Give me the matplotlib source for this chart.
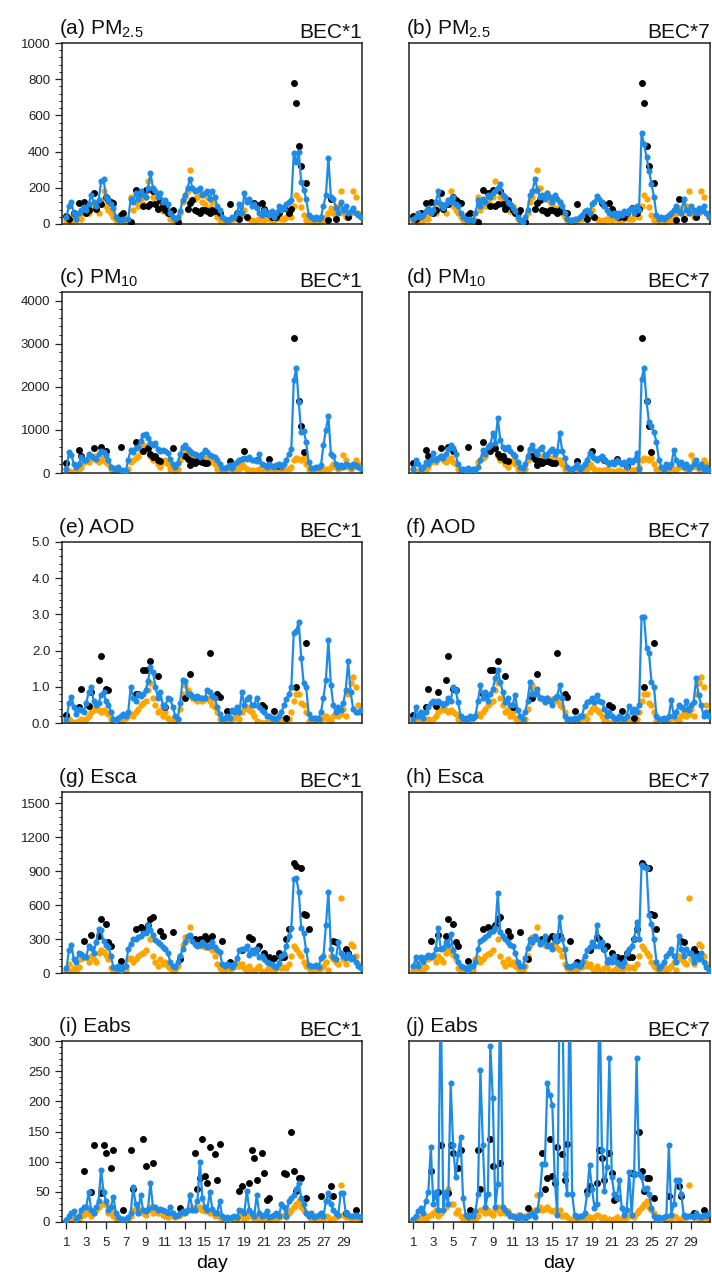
import matplotlib

matplotlib.use("Agg")
import matplotlib.pyplot as plt
import numpy as np
from matplotlib.ticker import AutoMinorLocator, FormatStrFormatter, MultipleLocator

nan = np.nan

plt.rcParams["font.family"] = ["Liberation Sans", "DejaVu Sans"]
plt.rcParams["mathtext.fontset"] = "custom"
plt.rcParams["mathtext.rm"] = "Liberation Sans"
plt.rcParams["mathtext.default"] = "regular"

# 6-hourly samples (4 per day), day 1 .. day 30
days = 1 + np.arange(120) / 4.0

# ---------------- PM2.5 ----------------
pm25_obs = [
    45, 30, nan, 60, nan, 115, nan, 120, 60, 75, nan, 170, 85, nan, 110, nan, 150, 130, 120, 115,
    nan, nan, 50, 60, nan, nan, 12, nan, 190, nan, 170, 100, 190, 100, 110, 180, 110, 85, 130, 100,
    75, 60, 60, 80, nan, 10, nan, nan, nan, 85, 115, 130, 75, 70, 60, 75, 75, 70, 60, 75,
    70, nan, 60, nan, nan, nan, 110, nan, nan, 60, 30, nan, nan, 40, nan, nan, 118, 105, nan, 115,
    85, 60, nan, 40, nan, 40, 60, nan, 90, nan, 60, 85, 780, 670, 430, 320, nan, 228, nan, nan,
    nan, nan, nan, nan, nan, nan, 20, 140, nan, 30, nan, nan, nan, nan, 40, nan, nan, nan, nan, nan,
]
pm25_mod = [
    20, 40, 10, 30, 20, 50, 30, 60, 80, 60, 90, 110, 100, 60, 130, 180, 100, 80, 60, 40,
    20, 10, 15, 20, 10, 20, 150, 80, 120, 100, 130, 110, 150, 240, 190, 150, 130, 90, 100, 70,
    100, 60, 30, 20, 10, 20, 60, 120, 150, 180, 300, 200, 140, 150, 170, 120, 110, 150, 90, 120,
    60, 40, 20, 10, 10, 15, 20, 30, 25, 40, 60, 50, 80, 40, 30, 20, 15, 20, 30, 25,
    20, 40, 30, 20, 20, 30, 40, 30, 30, 40, 50, 40, 100, 160, 140, 95, 50, 20, 15, 10,
    10, 15, 10, 20, 20, 40, 60, 90, 60, 40, 100, 180, 60, 40, 50, 60, 185, 150, 60, 40,
]
pm25_bec1 = [
    40, 100, 120, 60, 30, 60, 80, 95, 80, 110, 160, 120, 100, 130, 235, 250, 150, 130, 110, 90,
    40, 25, 20, 30, 25, 30, 140, 120, 170, 140, 180, 160, 150, 200, 280, 200, 180, 150, 170, 120,
    130, 110, 60, 40, 30, 40, 70, 130, 160, 200, 250, 200, 180, 190, 200, 160, 170, 180, 140, 180,
    150, 100, 80, 40, 30, 20, 30, 40, 40, 60, 110, 60, 170, 120, 140, 100, 110, 90, 60, 50,
    80, 60, 50, 70, 40, 60, 100, 80, 90, 110, 120, 130, 390, 340, 400, 230, 190, 140, 50, 40,
    30, 40, 30, 40, 100, 160, 365, 150, 140, 90, 60, 120, 80, 100, 60, 70, 90, 60, 50, 40,
]
pm25_bec7 = [
    30, 40, 60, 40, 50, 70, 90, 60, 80, 120, 180, 110, 90, 110, 130, 120, 150, 110, 100, 60,
    40, 30, 20, 30, 20, 60, 130, 100, 140, 120, 160, 150, 170, 180, 200, 220, 160, 150, 120, 110,
    90, 70, 40, 20, 10, 40, 80, 160, 180, 250, 190, 150, 160, 140, 170, 150, 120, 160, 140, 120,
    100, 60, 30, 20, 20, 25, 30, 40, 50, 70, 80, 60, 110, 120, 157, 140, 120, 100, 80, 60,
    50, 60, 40, 60, 50, 70, 60, 80, 90, 60, 100, 80, 505, 440, 370, 295, 220, 150, 50, 30,
    40, 30, 40, 50, 60, 80, 100, 70, 60, 140, 80, 60, 100, 80, 60, 90, 70, 100, 60, 40,
]

# ---------------- PM10 ----------------
pm10_obs = [
    230, nan, nan, nan, nan, 525, 400, nan, nan, nan, nan, 580, nan, nan, 600, nan, 500, nan, nan, nan,
    nan, nan, 600, nan, nan, nan, nan, nan, 710, nan, nan, 500, nan, 580, 450, 380, 385, 310, 270, nan,
    nan, nan, nan, 580, nan, nan, nan, nan, 385, 330, 190, 290, 230, 290, 270, 250, 240, 230, nan, nan,
    nan, nan, nan, nan, nan, nan, 270, nan, nan, nan, nan, nan, 515, nan, nan, nan, nan, 310, nan, nan,
    nan, nan, 325, nan, nan, nan, 170, nan, nan, nan, nan, nan, 3140, nan, 1675, 1100, 490, nan, nan, nan,
    nan, nan, nan, nan, nan, nan, nan, nan, nan, nan, nan, nan, nan, nan, nan, nan, nan, nan, nan, nan,
]
pm10_mod = [
    100, 50, 20, 40, 30, 100, 150, 250, 300, 250, 350, 400, 300, 250, 300, 350, 250, 200, 100, 50,
    20, 30, 50, 20, 30, 100, 250, 300, 350, 400, 500, 650, 620, 550, 400, 300, 350, 200, 150, 250,
    300, 200, 100, 50, 50, 100, 300, 500, 500, 450, 400, 350, 400, 350, 300, 350, 300, 350, 250, 300,
    200, 100, 50, 30, 30, 100, 150, 100, 80, 150, 100, 200, 150, 100, 50, 80, 50, 80, 100, 50,
    50, 30, 40, 60, 30, 50, 40, 100, 80, 60, 100, 150, 300, 350, 330, 300, 350, 200, 100, 50,
    40, 30, 50, 60, 80, 100, 60, 150, 200, 150, 100, 150, 425, 300, 150, 100, 150, 300, 200, 100,
]
pm10_bec1 = [
    100, 480, 420, 200, 150, 200, 380, 300, 300, 450, 400, 350, 320, 450, 520, 480, 420, 300, 150, 120,
    100, 130, 60, 80, 40, 300, 540, 480, 580, 600, 750, 880, 900, 820, 700, 660, 700, 560, 520, 540,
    520, 470, 320, 200, 150, 230, 450, 600, 640, 560, 500, 470, 450, 420, 380, 450, 530, 480, 420, 400,
    380, 300, 200, 120, 120, 150, 180, 120, 200, 250, 300, 320, 350, 320, 380, 300, 300, 280, 450, 200,
    180, 150, 200, 170, 150, 180, 200, 150, 200, 300, 450, 550, 2150, 2430, 1650, 950, 980, 720, 250, 120,
    120, 150, 130, 180, 650, 1000, 1330, 450, 400, 200, 150, 180, 150, 200, 180, 150, 200, 180, 150, 120,
]
pm10_bec7 = [
    100, 300, 200, 100, 150, 250, 200, 300, 460, 300, 350, 400, 350, 450, 550, 650, 580, 450, 200, 100,
    100, 80, 120, 60, 100, 80, 150, 300, 540, 450, 600, 650, 930, 700, 1275, 770, 600, 550, 600, 500,
    450, 400, 250, 150, 120, 200, 400, 550, 650, 500, 450, 550, 600, 400, 450, 500, 550, 450, 500, 930,
    500, 350, 150, 100, 100, 150, 200, 100, 150, 200, 300, 460, 400, 350, 300, 350, 400, 300, 250, 200,
    250, 200, 300, 250, 200, 250, 150, 300, 250, 300, 460, 100, 2180, 2430, 1660, 1175, 1080, 940, 730, 300,
    150, 100, 200, 150, 200, 525, 300, 200, 250, 150, 200, 100, 150, 200, 300, 150, 200, 100, 150, 80,
]

# ---------------- AOD ----------------
aod_obs = [
    0.23, nan, nan, nan, nan, 0.44, 0.93, nan, nan, 0.47, 0.86, nan, nan, 1.19, 1.86, nan, 0.95, 0.9, nan, nan,
    nan, nan, nan, nan, nan, nan, nan, nan, 0.81, 0.81, nan, 1.46, 1.46, nan, 1.7, nan, nan, 1.3, nan, nan,
    0.44, nan, nan, nan, nan, nan, nan, nan, 0.7, nan, 1.36, nan, nan, nan, nan, nan, nan, nan, 1.93, nan,
    nan, 0.81, 0.72, nan, nan, 0.32, nan, nan, nan, nan, nan, nan, nan, nan, nan, nan, nan, nan, nan, 0.51,
    0.44, nan, nan, nan, 0.33, nan, nan, nan, nan, 0.14, nan, nan, nan, 1.0, nan, nan, nan, 2.2, nan, nan,
    nan, nan, nan, nan, nan, nan, nan, nan, nan, nan, nan, nan, nan, nan, nan, nan, nan, nan, nan, nan,
]
aod_mod = [
    0.05, 0.1, 0.05, 0.0, 0.02, 0.05, 0.1, 0.05, 0.1, 0.2, 0.3, 0.35, 0.4, 0.35, 0.3, 0.35, 0.3, 0.25, 0.1, 0.05,
    0.0, 0.05, 0.02, 0.1, 0.15, 0.2, 0.25, 0.2, 0.3, 0.4, 0.5, 0.55, 0.6, 0.9, 1.1, 0.7, 0.5, 0.3, 0.35, 0.2,
    0.3, 0.15, 0.05, 0.1, 0.05, 0.1, 0.4, 0.8, 1.05, 0.9, 0.8, 0.7, 0.65, 0.6, 0.7, 0.6, 0.65, 0.7, 0.6, 0.5,
    0.45, 0.3, 0.1, 0.05, 0.05, 0.1, 0.05, 0.1, 0.15, 0.2, 0.1, 0.3, 0.4, 0.45, 0.35, 0.3, 0.2, 0.05, 0.02, 0.0,
    0.0, 0.02, 0.0, 0.0, 0.0, 0.02, 0.05, 0.05, 0.1, 0.05, 0.1, 0.3, 0.6, 0.8, 0.8, 0.55, 0.5, 0.3, 0.05, 0.02,
    0.0, 0.05, 0.0, 0.1, 0.15, 0.2, 0.1, 0.05, 0.2, 0.3, 0.2, 0.25, 0.4, 0.2, 0.8, 1.1, 1.28, 1.0, 0.5, 0.3,
]
aod_bec1 = [
    0.1, 0.55, 0.72, 0.45, 0.25, 0.4, 0.35, 0.3, 0.55, 0.85, 1.0, 0.6, 0.49, 0.55, 0.77, 0.86, 0.6, 0.49, 0.31, 0.12,
    0.08, 0.15, 0.2, 0.25, 0.2, 0.3, 1.0, 0.7, 0.6, 0.8, 0.75, 0.8, 0.9, 1.15, 1.55, 1.4, 1.0, 0.7, 0.85, 0.5,
    0.45, 0.7, 0.65, 0.45, 0.2, 0.1, 0.55, 1.2, 1.15, 0.8, 0.8, 0.75, 0.7, 0.75, 0.7, 0.68, 0.7, 0.9, 0.85, 0.75,
    0.7, 0.45, 0.25, 0.1, 0.15, 0.2, 0.15, 0.35, 0.3, 0.45, 0.3, 0.85, 0.5, 0.65, 0.72, 0.5, 0.5, 0.7, 0.45, 0.35,
    0.3, 0.2, 0.2, 0.15, 0.15, 0.1, 0.2, 0.3, 0.5, 0.65, 0.8, 1.0, 2.5, 2.55, 2.8, 1.8, 1.1, 1.0, 0.25, 0.15,
    0.15, 0.15, 0.12, 0.3, 0.7, 1.2, 2.3, 1.05, 0.5, 0.3, 0.45, 0.35, 0.55, 0.9, 1.7, 0.85, 0.4, 0.3, 0.3, 0.35,
]
aod_bec7 = [
    0.1, 0.45, 0.2, 0.3, 0.15, 0.3, 0.45, 0.55, 0.6, 0.58, 0.6, 0.55, 0.5, 0.55, 0.7, 0.6, 1.0, 0.9, 0.58, 0.2,
    0.1, 0.15, 0.1, 0.2, 0.15, 0.2, 0.6, 1.05, 0.7, 0.86, 0.6, 0.8, 0.95, 1.23, 1.46, 1.14, 0.85, 0.58, 0.7, 0.5,
    0.5, 0.77, 0.35, 0.2, 0.12, 0.3, 0.6, 1.14, 0.8, 0.8, 0.95, 0.7, 0.68, 0.58, 0.68, 0.6, 0.5, 0.68, 0.75, 1.05,
    0.68, 0.2, 0.12, 0.1, 0.1, 0.15, 0.1, 0.2, 0.2, 0.48, 0.58, 0.6, 0.68, 0.58, 0.77, 0.6, 0.58, 0.4, 0.2, 0.3,
    0.2, 0.15, 0.1, 0.2, 0.15, 0.1, 0.2, 0.48, 0.3, 0.4, 0.3, 0.5, 2.94, 2.92, 2.06, 1.93, 1.14, 1.0, 0.2, 0.1,
    0.1, 0.15, 0.1, 0.2, 0.63, 0.2, 0.3, 0.5, 0.45, 0.4, 0.6, 0.35, 0.5, 0.58, 1.23, 0.77, 0.5, 0.2, 0.3, 0.2,
]

# ---------------- Esca ----------------
esca_obs = [
    nan, nan, nan, nan, nan, nan, nan, 280, nan, nan, 340, nan, nan, 330, 480, nan, 435, 270, 240, nan,
    nan, nan, 110, nan, nan, nan, nan, nan, 390, nan, 405, 390, nan, 420, 480, 495, nan, nan, 375, 330,
    nan, nan, nan, 360, nan, nan, 125, nan, nan, nan, nan, nan, 300, nan, 300, nan, 330, 300, nan, 330,
    nan, nan, nan, 285, nan, nan, 95, 80, nan, nan, nan, 200, nan, nan, 315, 300, nan, 210, 240, nan,
    180, nan, 140, 125, 130, nan, 180, 140, 140, 300, 390, nan, 970, 950, nan, 930, 525, 510, 390, nan,
    nan, nan, nan, nan, nan, nan, nan, nan, 285, 270, nan, nan, nan, 210, 180, nan, nan, nan, nan, nan,
]
esca_mod = [
    30, 80, 20, 40, 20, 50, 120, 150, 140, 100, 150, 120, 100, 180, 200, 190, 160, 120, 40, 10,
    10, 20, 40, 20, 30, 120, 130, 100, 120, 150, 170, 180, 200, 390, 300, 150, 100, 65, 120, 80,
    100, 60, 40, 20, 30, 60, 150, 250, 320, 300, 410, 300, 280, 250, 260, 240, 230, 250, 220, 200,
    150, 80, 40, 20, 20, 40, 30, 60, 50, 100, 60, 80, 40, 20, 60, 30, 20, 40, 60, 20,
    10, 30, 50, 20, 20, 40, 60, 40, 50, 40, 80, 150, 240, 210, 180, 150, 100, 60, 40, 20,
    20, 50, 30, 40, 60, 100, 30, 150, 120, 100, 80, 660, 120, 80, 150, 260, 240, 150, 80, 40,
]
esca_bec1 = [
    40, 200, 250, 120, 95, 180, 170, 140, 140, 240, 220, 180, 270, 390, 380, 280, 250, 230, 150, 50,
    40, 60, 30, 50, 60, 210, 260, 300, 300, 320, 330, 350, 350, 420, 380, 340, 290, 270, 260, 230,
    210, 180, 100, 60, 50, 100, 150, 210, 270, 330, 340, 280, 260, 240, 250, 270, 250, 230, 240, 270,
    230, 200, 190, 80, 60, 80, 70, 50, 80, 130, 200, 210, 210, 240, 160, 200, 180, 210, 140, 150,
    120, 100, 90, 80, 60, 50, 90, 150, 170, 240, 330, 400, 830, 840, 720, 400, 350, 200, 70, 60,
    60, 70, 50, 130, 150, 420, 720, 210, 140, 120, 270, 180, 150, 130, 170, 120, 140, 100, 60, 40,
]
esca_bec7 = [
    60, 140, 60, 140, 100, 140, 160, 140, 155, 210, 395, 210, 220, 270, 250, 345, 200, 150, 95, 60,
    50, 40, 30, 60, 60, 100, 210, 285, 300, 320, 340, 360, 375, 400, 705, 360, 330, 300, 270, 250,
    240, 180, 100, 60, 60, 130, 220, 300, 270, 330, 300, 260, 270, 330, 240, 250, 210, 330, 280, 495,
    300, 210, 60, 50, 60, 80, 70, 60, 100, 150, 200, 230, 270, 240, 425, 240, 270, 210, 95, 120,
    95, 150, 95, 80, 65, 100, 180, 210, 240, 300, 450, 300, 955, 940, 930, 510, 435, 300, 100, 40,
    60, 100, 150, 180, 210, 150, 100, 330, 210, 150, 210, 180, 180, 100, 150, 120, 180, 100, 50, 30,
]

# ---------------- Eabs ----------------
eabs_obs = [
    nan, nan, nan, nan, nan, nan, nan, 84, nan, nan, 50, 128, nan, nan, 48, 128, 115, nan, 90, 120,
    nan, nan, nan, 20, nan, nan, 120, 54, nan, nan, nan, 138, 93, nan, nan, 98, nan, nan, nan, nan,
    nan, nan, nan, nan, nan, nan, 23, nan, nan, nan, nan, nan, 115, 55, 73, 137, 76, 65, 125, nan,
    112, 70, 130, nan, nan, nan, nan, nan, nan, nan, 51, 59, nan, nan, 65, 120, 106, 70, nan, 115,
    82, 36, 40, nan, nan, nan, nan, nan, 82, 79, nan, 150, 84, 51, 73, 73, nan, 40, nan, nan,
    nan, nan, nan, 43, nan, nan, nan, 59, 43, nan, nan, nan, nan, 15, nan, nan, nan, 20, nan, nan,
]
eabs_mod = [
    3, 5, 2, 8, 5, 3, 10, 12, 15, 20, 10, 15, 20, 25, 55, 30, 30, 15, 20, 10,
    5, 3, 2, 3, 3, 5, 10, 20, 20, 15, 20, 15, 12, 20, 25, 15, 20, 15, 18, 12,
    10, 8, 12, 10, 8, 10, 12, 15, 18, 20, 45, 25, 20, 22, 25, 20, 18, 20, 15, 20,
    10, 12, 8, 5, 3, 5, 3, 5, 8, 5, 10, 8, 5, 8, 12, 10, 5, 8, 3, 5,
    3, 5, 8, 3, 5, 3, 8, 10, 12, 8, 15, 20, 25, 30, 35, 25, 20, 15, 10, 5,
    3, 5, 3, 5, 5, 10, 8, 3, 5, 8, 10, 62, 12, 8, 10, 5, 8, 5, 3, 5,
]
eabs_bec1 = [
    3, 10, 15, 18, 5, 10, 20, 25, 25, 50, 20, 15, 25, 35, 87, 50, 35, 20, 25, 42,
    15, 8, 5, 5, 5, 8, 15, 58, 30, 15, 45, 20, 18, 22, 65, 25, 25, 20, 22, 20,
    18, 15, 25, 15, 10, 12, 15, 18, 15, 20, 45, 20, 20, 35, 100, 40, 25, 20, 50, 22,
    15, 15, 35, 10, 5, 8, 5, 8, 10, 8, 20, 18, 15, 52, 20, 15, 10, 45, 15, 10,
    12, 18, 8, 10, 12, 15, 10, 30, 25, 10, 35, 40, 45, 55, 65, 40, 30, 15, 10, 15,
    8, 10, 12, 15, 10, 34, 48, 30, 20, 15, 12, 48, 48, 15, 12, 10, 10, 12, 10, 8,
]
eabs_bec7 = [
    5, 10, 18, 24, 15, 35, 50, 124, 30, 49, 20, 400, 20, 49, 30, 230, 127, 74, 113, 141,
    40, 12, 8, 12, 10, 18, 46, 252, 127, 25, 46, 292, 205, 25, 63, 400, 25, 20, 15, 10,
    10, 8, 5, 12, 8, 5, 10, 12, 15, 8, 20, 46, 96, 96, 230, 210, 194, 69, 12, 400,
    400, 80, 46, 400, 46, 12, 8, 10, 10, 15, 46, 94, 55, 24, 30, 400, 119, 52, 91, 272,
    74, 46, 40, 69, 24, 12, 20, 83, 12, 80, 272, 80, 74, 55, 57, 46, 24, 10, 5, 8,
    5, 8, 10, 127, 12, 30, 69, 69, 46, 12, 8, 10, 10, 8, 15, 10, 8, 12, 10, 15,
]

variables = [
    {"name": "PM$_{2.5}$", "ymax": 1000, "step": 200, "fmt": "%d",
     "obs": pm25_obs, "mod": pm25_mod, "bec": [pm25_bec1, pm25_bec7]},
    {"name": "PM$_{10}$", "ymax": 4200, "step": 1000, "fmt": "%d",
     "obs": pm10_obs, "mod": pm10_mod, "bec": [pm10_bec1, pm10_bec7]},
    {"name": "AOD", "ymax": 5.0, "step": 1.0, "fmt": "%.1f",
     "obs": aod_obs, "mod": aod_mod, "bec": [aod_bec1, aod_bec7]},
    {"name": "Esca", "ymax": 1600, "step": 300, "fmt": "%d",
     "obs": esca_obs, "mod": esca_mod, "bec": [esca_bec1, esca_bec7]},
    {"name": "Eabs", "ymax": 300, "step": 50, "fmt": "%d",
     "obs": eabs_obs, "mod": eabs_mod, "bec": [eabs_bec1, eabs_bec7]},
]
case_labels = ["BEC*1", "BEC*7"]
panel_letters = "abcdefghij"
day_ticks = list(range(1, 30, 2))

color_obs = "black"
color_mod = "#ffa500"
color_bec = "#1e8be6"

W, H = 712, 1281
fig = plt.figure(figsize=(W / 100, H / 100), dpi=100)

col_left = [62, 409]
col_width = [300, 301]
row_top = [43, 292, 542, 792, 1041]
box_h = 181

for row, var in enumerate(variables):
    for col in range(2):
        left = col_left[col] / W
        bottom = 1 - (row_top[row] + box_h) / H
        ax = fig.add_axes([left, bottom, col_width[col] / W, box_h / H])

        ax.plot(days, var["mod"], "o", color=color_mod, ms=4.6, mec="none", zorder=2)
        ax.plot(days, var["obs"], "o", color=color_obs, ms=5.0, mec="none", zorder=3)
        ax.plot(days, var["bec"][col], "-o", color=color_bec, lw=1.6, ms=4.4,
                mec="none", zorder=4)

        ax.set_xlim(0.55, 30.9)
        ax.set_ylim(0, var["ymax"])

        for sp in ax.spines.values():
            sp.set_linewidth(1.1)
            sp.set_color("#222222")

        if col == 0:
            ax.yaxis.set_major_locator(MultipleLocator(var["step"]))
            ax.yaxis.set_minor_locator(AutoMinorLocator(5))
            ax.yaxis.set_major_formatter(FormatStrFormatter(var["fmt"]))
            ax.tick_params(axis="y", which="major", direction="out", length=5, width=0.9,
                           labelsize=9.5, colors="#222222")
            ax.tick_params(axis="y", which="minor", direction="out", length=2.5, width=0.7,
                           colors="#222222")
        else:
            ax.set_yticks([])

        if row == len(variables) - 1:
            ax.set_xticks(day_ticks)
            ax.tick_params(axis="x", which="major", direction="out", length=5, width=0.9,
                           labelsize=9.5, pad=6, colors="#222222")
            ax.set_xlabel("day", fontsize=14, labelpad=4)
        else:
            ax.set_xticks([])

        letter = panel_letters[row * 2 + col]
        ax.text(-0.01, 1.05, f"({letter}) {var['name']}", transform=ax.transAxes,
                ha="left", va="baseline", fontsize=15, color="#111111")
        ax.text(1.0, 1.025, case_labels[col], transform=ax.transAxes,
                ha="right", va="baseline", fontsize=15, color="#111111")

fig.savefig("out.png", dpi=100)
plt.close(fig)
